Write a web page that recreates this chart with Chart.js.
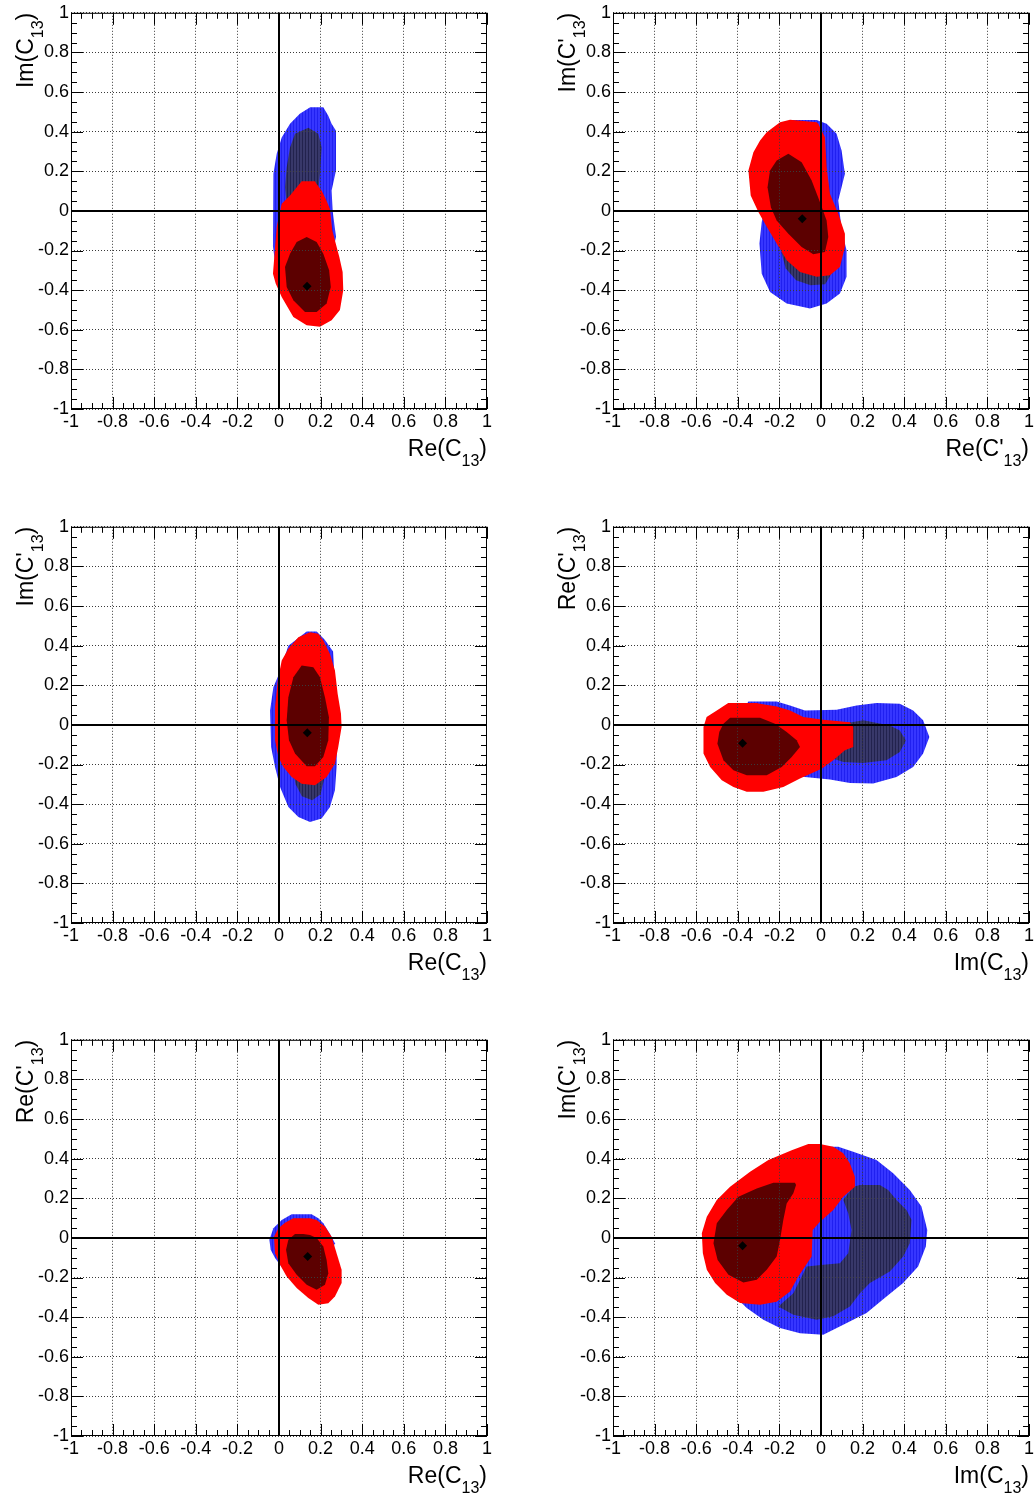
<!DOCTYPE html>
<html>
<head>
<meta charset="utf-8">
<script src="https://cdn.jsdelivr.net/npm/chart.js@4.4.1/dist/chart.umd.min.js"></script>
<style>
  html, body { margin: 0; padding: 0; background: #fff; overflow: hidden; }
  body { width: 1036px; height: 1495px; position: relative; }
  canvas { position: absolute; }
</style>
</head>
<body>
<canvas id="p1" width="494" height="468" style="left:0px;top:0px"></canvas>
<canvas id="p2" width="494" height="468" style="left:542px;top:0px"></canvas>
<canvas id="p3" width="494" height="468" style="left:0px;top:514px"></canvas>
<canvas id="p4" width="494" height="468" style="left:542px;top:514px"></canvas>
<canvas id="p5" width="494" height="468" style="left:0px;top:1027px"></canvas>
<canvas id="p6" width="494" height="468" style="left:542px;top:1027px"></canvas>
<script>
// axis ticks, shared by every panel
const tickValues = [-1, -0.8, -0.6, -0.4, -0.2, 0, 0.2, 0.4, 0.6, 0.8, 1];
const tickLabels = ['-1', '-0.8', '-0.6', '-0.4', '-0.2', '0', '0.2', '0.4', '0.6', '0.8', '1'];

// axis titles, "_13" is the subscript
const xTitles = ['Re(C_13)', "Re(C'_13)", 'Re(C_13)', 'Im(C_13)', 'Re(C_13)', 'Im(C_13)'];
const yTitles = ['Im(C_13)', "Im(C'_13)", "Im(C'_13)", "Re(C'_13)", "Re(C'_13)", "Im(C'_13)"];

// contours: blue2/red2 = outer region, blue1/red1 = inner region
const p1Blue2 = [[0.15,0.523],[0.213,0.523],[0.237,0.48],[0.253,0.44],[0.274,0.405],[0.274,0.204],[0.253,0.103],[0.258,0.0],[0.274,-0.13],[0.24,-0.3],[0.1,-0.35],[-0.02,-0.25],[-0.029,-0.18],[-0.027,0.187],[-0.011,0.288],[0.013,0.37],[0.053,0.44],[0.10,0.49]];
const p1Blue1 = [[0.141,0.42],[0.189,0.389],[0.205,0.32],[0.197,0.187],[0.189,0.103],[0.2,-0.1],[0.05,-0.1],[0.029,0.12],[0.037,0.22],[0.053,0.32],[0.077,0.389]];
const p1Red2 = [[0.109,0.15],[0.173,0.15],[0.181,0.136],[0.205,0.103],[0.229,0.05],[0.245,0.01],[0.256,-0.098],[0.29,-0.233],[0.306,-0.308],[0.309,-0.40],[0.293,-0.50],[0.253,-0.552],[0.197,-0.585],[0.133,-0.577],[0.069,-0.535],[0.013,-0.434],[-0.016,-0.367],[-0.029,-0.317],[-0.011,-0.08],[0.013,0.036],[0.053,0.078]];
const p1Red1 = [[0.133,-0.132],[0.181,-0.157],[0.213,-0.216],[0.241,-0.30],[0.249,-0.384],[0.229,-0.468],[0.181,-0.51],[0.125,-0.51],[0.069,-0.451],[0.037,-0.384],[0.029,-0.283],[0.053,-0.216],[0.085,-0.157]];
const p1Best = [[0.135,-0.38]];

const p2Blue2 = [[-0.133,0.459],[-0.021,0.459],[0.027,0.44],[0.075,0.389],[0.099,0.305],[0.115,0.187],[0.083,0.053],[0.10,-0.1],[0.123,-0.199],[0.123,-0.333],[0.091,-0.417],[0.027,-0.468],[-0.053,-0.493],[-0.165,-0.468],[-0.245,-0.409],[-0.285,-0.317],[-0.296,-0.165],[-0.285,-0.056],[-0.25,0.1],[-0.2,0.35]];
const p2Blue1 = [[-0.19,-0.21],[-0.17,-0.29],[-0.12,-0.35],[-0.05,-0.375],[0.02,-0.37],[0.06,-0.3],[0.05,-0.2],[0.0,-0.1],[-0.1,-0.1]];
const p2Red2 = [[-0.197,0.447],[-0.149,0.46],[-0.021,0.447],[-0.013,0.44],[0.019,0.372],[0.027,0.221],[0.043,0.087],[0.083,-0.014],[0.115,-0.115],[0.115,-0.182],[0.091,-0.283],[0.043,-0.325],[-0.021,-0.333],[-0.101,-0.308],[-0.165,-0.249],[-0.213,-0.165],[-0.261,-0.08],[-0.301,-0.006],[-0.338,0.078],[-0.349,0.204],[-0.325,0.296],[-0.293,0.355],[-0.261,0.397]];
const p2Red1 = [[-0.157,0.288],[-0.093,0.246],[-0.045,0.154],[-0.008,0.053],[0.027,-0.048],[0.035,-0.132],[0.019,-0.207],[-0.037,-0.219],[-0.093,-0.182],[-0.157,-0.115],[-0.213,-0.048],[-0.241,0.019],[-0.257,0.12],[-0.245,0.204],[-0.213,0.254]];
const p2Best = [[-0.09,-0.04]];

const p3Blue2 = [[0.133,0.471],[0.181,0.471],[0.22,0.43],[0.26,0.37],[0.28,0.0],[0.277,-0.213],[0.269,-0.33],[0.245,-0.414],[0.205,-0.473],[0.149,-0.49],[0.093,-0.465],[0.045,-0.414],[0.005,-0.313],[-0.019,-0.213],[-0.038,-0.112],[-0.043,0.073],[-0.027,0.19],[0.0,0.257],[0.045,0.4]];
const p3Blue1 = [[0.06,-0.2],[0.08,-0.30],[0.11,-0.36],[0.16,-0.38],[0.2,-0.35],[0.22,-0.26],[0.2,-0.1],[0.1,-0.1]];
const p3Red2 = [[0.149,0.468],[0.189,0.46],[0.213,0.426],[0.245,0.358],[0.269,0.275],[0.282,0.157],[0.298,0.056],[0.301,-0.011],[0.285,-0.112],[0.269,-0.196],[0.229,-0.263],[0.173,-0.305],[0.109,-0.297],[0.061,-0.263],[0.021,-0.213],[-0.003,-0.162],[-0.019,-0.078],[-0.019,0.09],[-0.006,0.224],[0.013,0.325],[0.045,0.384],[0.093,0.442]];
const p3Red1 = [[0.109,0.30],[0.165,0.291],[0.197,0.241],[0.221,0.14],[0.24,0.039],[0.237,-0.078],[0.213,-0.162],[0.173,-0.209],[0.133,-0.209],[0.077,-0.145],[0.048,-0.078],[0.037,0.023],[0.045,0.14],[0.069,0.241]];
const p3Best = [[0.136,-0.039]];

const p4Blue2 = [[-0.349,0.118],[-0.213,0.118],[-0.149,0.098],[-0.077,0.073],[0.075,0.077],[0.171,0.098],[0.267,0.11],[0.379,0.107],[0.443,0.073],[0.491,0.023],[0.521,-0.061],[0.491,-0.145],[0.443,-0.212],[0.363,-0.263],[0.251,-0.296],[0.139,-0.293],[0.043,-0.276],[-0.053,-0.266],[-0.2,-0.25],[-0.45,-0.1],[-0.45,0.05],[-0.36,0.10]];
const p4Blue1 = [[0.147,0.014],[0.203,0.023],[0.331,-0.003],[0.379,-0.028],[0.408,-0.079],[0.379,-0.137],[0.315,-0.179],[0.203,-0.192],[0.107,-0.187],[0.0,-0.15],[0.0,0.0]];
const p4Red2 = [[-0.446,0.11],[-0.309,0.11],[-0.293,0.107],[-0.213,0.093],[-0.149,0.073],[-0.085,0.04],[0.011,0.026],[0.139,0.014],[0.155,-0.011],[0.155,-0.112],[0.115,-0.128],[0.059,-0.179],[0.003,-0.221],[-0.101,-0.271],[-0.181,-0.313],[-0.277,-0.338],[-0.357,-0.338],[-0.421,-0.313],[-0.477,-0.28],[-0.533,-0.212],[-0.565,-0.145],[-0.565,-0.011],[-0.55,0.04],[-0.501,0.073]];
const p4Red1 = [[-0.437,0.036],[-0.293,0.036],[-0.221,0.006],[-0.165,-0.036],[-0.117,-0.078],[-0.101,-0.112],[-0.141,-0.162],[-0.189,-0.212],[-0.261,-0.254],[-0.357,-0.254],[-0.421,-0.229],[-0.469,-0.179],[-0.498,-0.095],[-0.489,-0.036],[-0.469,0.006]];
const p4Best = [[-0.377,-0.092]];

const p5Blue2 = [[0.061,0.119],[0.157,0.119],[0.189,0.099],[0.213,0.074],[0.245,0.02],[0.269,-0.027],[0.2,-0.2],[0.05,-0.2],[-0.019,-0.102],[-0.04,-0.06],[-0.046,-0.009],[-0.027,0.049],[0.013,0.09]];
const p5Blue1 = [];
const p5Red2 = [[0.069,0.099],[0.149,0.099],[0.181,0.09],[0.221,0.057],[0.253,0.006],[0.277,-0.077],[0.301,-0.161],[0.301,-0.228],[0.269,-0.296],[0.237,-0.33],[0.189,-0.338],[0.141,-0.304],[0.085,-0.253],[0.037,-0.195],[0.005,-0.136],[-0.019,-0.077],[-0.024,0.006],[-0.003,0.049],[0.029,0.077]];
const p5Red1 = [[0.077,0.02],[0.117,0.02],[0.149,0.015],[0.181,-0.001],[0.213,-0.043],[0.229,-0.111],[0.237,-0.178],[0.221,-0.237],[0.181,-0.262],[0.133,-0.237],[0.085,-0.186],[0.045,-0.128],[0.034,-0.06],[0.045,-0.009]];
const p5Best = [[0.138,-0.094]];

const p6Blue2 = [[0.003,0.46],[0.083,0.46],[0.155,0.435],[0.267,0.393],[0.347,0.326],[0.427,0.242],[0.483,0.158],[0.511,0.04],[0.504,-0.044],[0.467,-0.144],[0.395,-0.228],[0.315,-0.296],[0.219,-0.379],[0.107,-0.438],[0.011,-0.489],[-0.101,-0.481],[-0.197,-0.455],[-0.277,-0.413],[-0.357,-0.354],[-0.381,-0.329],[-0.4,0.0],[-0.2,0.4]];
const p6Blue1 = [[0.187,0.267],[0.283,0.267],[0.323,0.242],[0.363,0.191],[0.411,0.141],[0.435,0.091],[0.427,-0.027],[0.395,-0.094],[0.331,-0.17],[0.235,-0.228],[0.187,-0.28],[0.139,-0.346],[0.059,-0.396],[-0.021,-0.413],[-0.133,-0.388],[-0.205,-0.346],[-0.133,-0.28],[-0.085,-0.178],[-0.069,-0.144],[0.011,-0.136],[0.091,-0.128],[0.131,-0.077],[0.147,0.04],[0.131,0.124],[0.107,0.191],[0.155,0.258]];
const p6Red2 = [[-0.061,0.474],[-0.005,0.474],[0.059,0.46],[0.107,0.427],[0.139,0.376],[0.163,0.309],[0.163,0.258],[0.107,0.208],[0.059,0.141],[-0.005,0.082],[-0.04,0.04],[-0.045,-0.094],[-0.077,-0.144],[-0.109,-0.195],[-0.149,-0.27],[-0.213,-0.322],[-0.293,-0.338],[-0.389,-0.329],[-0.453,-0.287],[-0.509,-0.228],[-0.549,-0.161],[-0.568,-0.077],[-0.573,0.024],[-0.549,0.107],[-0.501,0.191],[-0.437,0.258],[-0.341,0.334],[-0.253,0.393],[-0.141,0.443]];
const p6Red1 = [[-0.229,0.279],[-0.125,0.279],[-0.12,0.267],[-0.133,0.225],[-0.165,0.174],[-0.181,0.091],[-0.197,-0.01],[-0.213,-0.094],[-0.261,-0.161],[-0.309,-0.211],[-0.373,-0.225],[-0.445,-0.186],[-0.497,-0.111],[-0.517,-0.027],[-0.501,0.074],[-0.453,0.141],[-0.397,0.208],[-0.309,0.25]];
const p6Best = [[-0.377,-0.04]];

const panels = [
    { id: 'p1', blue2: p1Blue2, blue1: p1Blue1, red2: p1Red2, red1: p1Red1, best: p1Best },
    { id: 'p2', blue2: p2Blue2, blue1: p2Blue1, red2: p2Red2, red1: p2Red1, best: p2Best },
    { id: 'p3', blue2: p3Blue2, blue1: p3Blue1, red2: p3Red2, red1: p3Red1, best: p3Best },
    { id: 'p4', blue2: p4Blue2, blue1: p4Blue1, red2: p4Red2, red1: p4Red1, best: p4Best },
    { id: 'p5', blue2: p5Blue2, blue1: p5Blue1, red2: p5Red2, red1: p5Red1, best: p5Best },
    { id: 'p6', blue2: p6Blue2, blue1: p6Blue1, red2: p6Red2, red1: p6Red1, best: p6Best },
];

const family = '"Liberation Sans", Arial, Helvetica, sans-serif';
Chart.defaults.font.family = family;
Chart.defaults.color = '#000';

// ROOT paints the bins as thin vertical columns, a two-tone stripe mimics that
function stripes(a, b) {
    const c = document.createElement('canvas');
    c.width = 3;
    c.height = 1;
    const g = c.getContext('2d');
    g.fillStyle = a;
    g.fillRect(0, 0, 2, 1);
    g.fillStyle = b;
    g.fillRect(2, 0, 1, 1);
    return g.createPattern(c, 'repeat');
}

const fills = {
    blue2: stripes('#3636ff', '#2020f0'),
    blue1: stripes('#38386a', '#22224e'),
    red2: '#ff0000',
    red1: '#5c0000',
};

function drawTitle(ctx, text) {
    // text ends at x=0, baseline at y=0
    const m = text.match(/^(.*)_(\d+)(.*)$/);
    const [pre, sub, post] = m ? [m[1], m[2], m[3]] : [text, '', ''];
    const big = '23px ' + family;
    const small = '16px ' + family;
    ctx.font = big;
    const w1 = ctx.measureText(pre).width;
    const w3 = ctx.measureText(post).width;
    ctx.font = small;
    const w2 = ctx.measureText(sub).width;
    let x = -(w1 + w2 + w3);
    ctx.fillStyle = '#000';
    ctx.textAlign = 'left';
    ctx.textBaseline = 'alphabetic';
    ctx.font = big;
    ctx.fillText(pre, x, 0);
    x += w1;
    ctx.font = small;
    ctx.fillText(sub, x, 10);
    x += w2;
    ctx.font = big;
    ctx.fillText(post, x, 0);
}

const contourPlugin = {
    id: 'contours',
    beforeDatasetsDraw(chart) {
        const { ctx, chartArea: a } = chart;
        ctx.save();
        ctx.beginPath();
        ctx.rect(a.left, a.top, a.right - a.left, a.bottom - a.top);
        ctx.clip();
        chart.data.datasets.forEach((ds, i) => {
            if (!ds.contour) return;
            const pts = chart.getDatasetMeta(i).data;
            if (!pts.length) return;
            ctx.beginPath();
            pts.forEach((p, j) => (j ? ctx.lineTo(p.x, p.y) : ctx.moveTo(p.x, p.y)));
            ctx.closePath();
            ctx.fillStyle = fills[ds.contour];
            ctx.fill();
        });
        ctx.restore();
    },
    afterDraw(chart, args, opts) {
        const { ctx, chartArea: a, scales } = chart;
        const xs = scales.x;
        const ys = scales.y;
        ctx.save();
        ctx.strokeStyle = '#000';

        // zero lines
        ctx.lineWidth = 2;
        const x0 = Math.round(xs.getPixelForValue(0));
        const y0 = Math.round(ys.getPixelForValue(0));
        ctx.beginPath();
        ctx.moveTo(x0, a.top);
        ctx.lineTo(x0, a.bottom);
        ctx.moveTo(a.left, y0);
        ctx.lineTo(a.right, y0);
        ctx.stroke();

        // frame
        ctx.lineWidth = 1;
        ctx.strokeRect(a.left + 0.5, a.top + 0.5, a.right - a.left - 1, a.bottom - a.top - 1);

        // inward ticks on all four sides, minor every 0.05
        ctx.beginPath();
        for (let i = -20; i <= 20; i++) {
            const len = i % 4 === 0 ? 12 : 6;
            const px = Math.round(xs.getPixelForValue(i / 20)) + 0.5;
            const py = Math.round(ys.getPixelForValue(i / 20)) + 0.5;
            ctx.moveTo(px, a.bottom);
            ctx.lineTo(px, a.bottom - len);
            ctx.moveTo(px, a.top);
            ctx.lineTo(px, a.top + len);
            ctx.moveTo(a.left, py);
            ctx.lineTo(a.left + len, py);
            ctx.moveTo(a.right, py);
            ctx.lineTo(a.right - len, py);
        }
        ctx.stroke();

        // axis titles
        ctx.save();
        ctx.translate(a.right, a.bottom + 47);
        drawTitle(ctx, opts.xTitle);
        ctx.restore();
        ctx.save();
        ctx.translate(a.left - 38, a.top);
        ctx.rotate(-Math.PI / 2);
        drawTitle(ctx, opts.yTitle);
        ctx.restore();

        ctx.restore();
    },
};

const toPoints = (arr) => arr.map(([x, y]) => ({ x, y }));

function axis(afterFit) {
    return {
        type: 'linear',
        min: -1,
        max: 1,
        afterBuildTicks: (scale) => {
            scale.ticks = tickValues.map((v) => ({ value: v }));
        },
        afterFit,
        ticks: {
            callback: (v, i) => tickLabels[i],
            font: { size: 18 },
            color: '#000',
            padding: 2,
            maxRotation: 0,
            autoSkip: false,
        },
        grid: { color: '#3a3a3a', lineWidth: 1, drawTicks: false, z: 1 },
        border: { display: false, dash: [1, 2] },
    };
}

panels.forEach((p, k) => {
    new Chart(document.getElementById(p.id), {
        type: 'scatter',
        data: {
            datasets: [
                { data: toPoints(p.blue2), contour: 'blue2', pointRadius: 0 },
                { data: toPoints(p.blue1), contour: 'blue1', pointRadius: 0 },
                { data: toPoints(p.red2), contour: 'red2', pointRadius: 0 },
                { data: toPoints(p.red1), contour: 'red1', pointRadius: 0 },
                {
                    data: toPoints(p.best),
                    pointStyle: 'rectRot',
                    pointRadius: 4.5,
                    backgroundColor: '#000',
                    borderWidth: 0,
                },
            ],
        },
        options: {
            responsive: false,
            animation: false,
            events: [],
            devicePixelRatio: 1,
            layout: { padding: { left: 0, top: 12, right: 7, bottom: 0 } },
            scales: {
                x: axis((s) => { s.height = 59; }),
                y: axis((s) => { s.width = 71; }),
            },
            plugins: {
                legend: { display: false },
                tooltip: { enabled: false },
                contours: { xTitle: xTitles[k], yTitle: yTitles[k] },
            },
        },
        plugins: [contourPlugin],
    });
});
</script>
</body>
</html>
